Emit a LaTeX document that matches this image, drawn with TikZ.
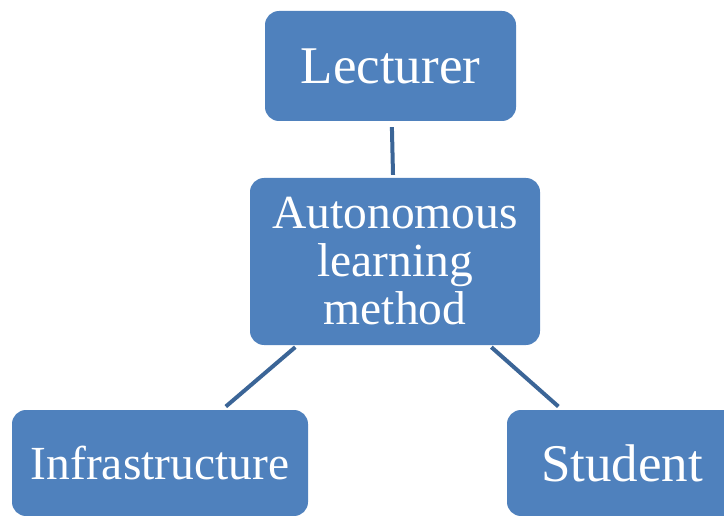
\documentclass[tikz,border=0pt]{standalone}
\usepackage{fontspec}
\setmainfont{Liberation Serif}
\definecolor{boxblue}{HTML}{4F81BD}
\definecolor{linkblue}{HTML}{3B6597}
\begin{document}
\begin{tikzpicture}[x=1pt,y=-1pt,
  box/.style={rectangle, rounded corners=14pt, fill=boxblue, draw=none,
    text=white, inner sep=0pt, align=center},
  bigtext/.style={font=\fontsize{53}{53}\selectfont},
  midtext/.style={font=\fontsize{47.5}{48}\selectfont},
  link/.style={draw=linkblue, line width=4pt, shorten <=3pt, shorten >=5pt}]
\useasboundingbox (0,0) rectangle (724,516);
\clip (0,0) rectangle (724,516);
\node[box, bigtext, minimum width=251pt, minimum height=110pt] (lect) at (390.5,66) {Lecturer};
\node[box, midtext, minimum width=290pt, minimum height=167pt] (alm) at (395,261.5) {Autonomous\\learning\\method};
\node[box, midtext, minimum width=296pt, minimum height=106pt] (infra) at (160,463) {Infrastructure};
\node[box, bigtext, minimum width=230pt, minimum height=106pt] (stud) at (622,463) {Student};
\draw[link, shorten <=6pt, shorten >=3pt] (lect) -- (alm);
\draw[link] (alm) -- (infra);
\draw[link] (alm) -- (stud);
\end{tikzpicture}
\end{document}
